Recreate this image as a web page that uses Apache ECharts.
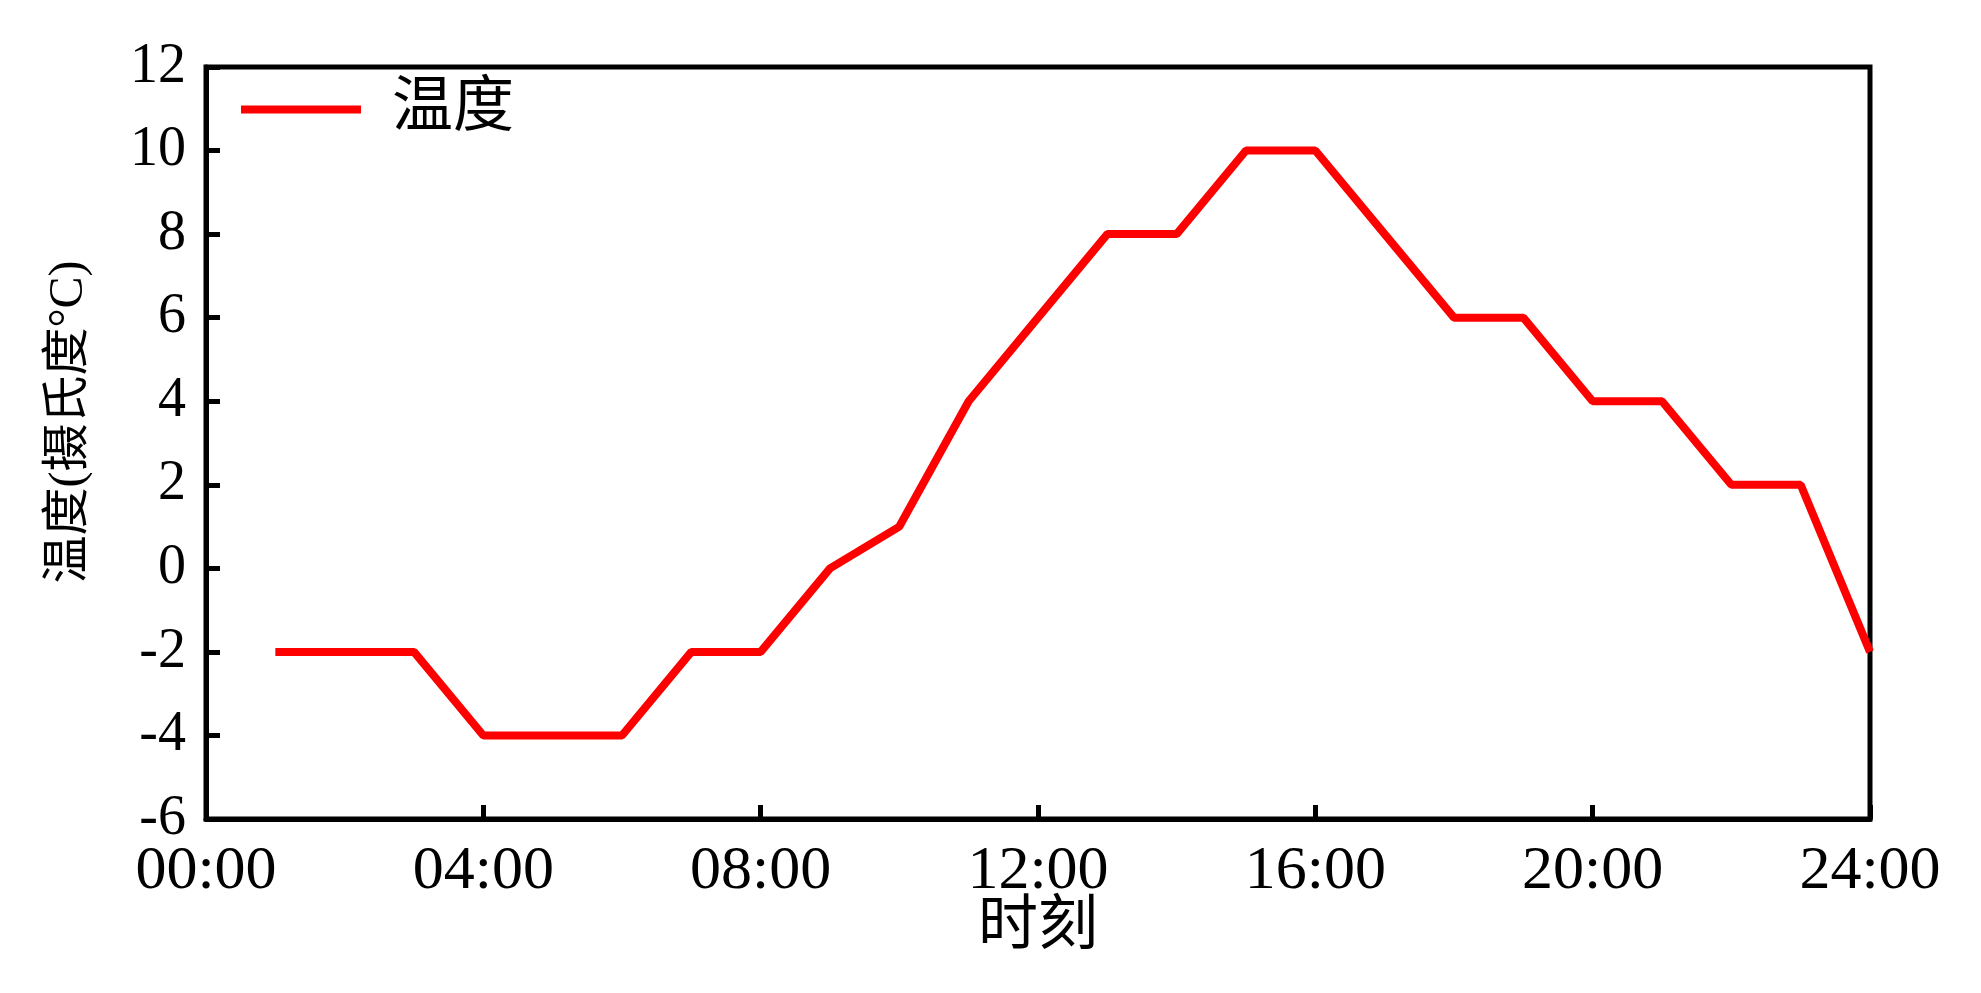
<!DOCTYPE html>
<html>
<head>
<meta charset="utf-8">
<script src="https://cdn.jsdelivr.net/npm/echarts@6/dist/echarts.min.js"></script>
<style>
  html, body { margin: 0; padding: 0; background: #fff; }
  #main { width: 1981px; height: 993px; }
</style>
</head>
<body>
<div id="main"></div>
<script>
// hour of day (x) and temperature (y)
const hours = [1, 2, 3, 4, 5, 6, 7, 8, 9, 10, 11, 12, 13, 14, 15, 16, 17, 18, 19, 20, 21, 22, 23, 24];
const temps = [-2, -2, -2, -4, -4, -4, -2, -2, 0, 1, 4, 6, 8, 8, 10, 10, 8, 6, 6, 4, 4, 2, 2, -2];
const seriesName = "温度";
const xName = "时刻";
const yName = "温度(摄氏度°C)";

const font = "'Liberation Serif', 'Times New Roman', 'Noto Sans CJK SC', serif";

const chart = echarts.init(document.getElementById("main"));

const option = {
  backgroundColor: "#fff",
  animation: false,
  grid: {
    left: 206, right: 111, top: 67, bottom: 174,
    show: true, borderColor: "#000", borderWidth: 5, backgroundColor: "transparent"
  },
  legend: {
    left: 236,
    top: 74,
    itemWidth: 120,
    itemHeight: 8,
    itemGap: 10,
    icon: "rect",
    textStyle: { fontFamily: font, fontSize: 61, color: "#000", padding: [6, 0, 0, 26] },
    data: [seriesName]
  },
  xAxis: {
    type: "value",
    min: 0,
    max: 24,
    interval: 4,
    name: xName,
    nameLocation: "middle",
    nameGap: 79,
    nameMoveOverlap: false,
    nameTextStyle: { fontFamily: font, fontSize: 60, color: "#000" },
    axisLine: { show: true, onZero: false, lineStyle: { color: "#000", width: 5 } },
    axisTick: { show: true, inside: true, length: 14, lineStyle: { color: "#000", width: 5 } },
    axisLabel: {
      fontFamily: font, fontSize: 62, color: "#000", margin: 22,
      formatter: v => String(v).padStart(2, "0") + ":00"
    },
    splitLine: { show: false }
  },
  yAxis: {
    type: "value",
    min: -6,
    max: 12,
    interval: 2,
    name: yName,
    nameLocation: "middle",
    nameGap: 113,
    nameTextStyle: { fontFamily: font, fontSize: 48, color: "#000", padding: [0, 0, 0, 42] },
    axisLine: { show: true, onZero: false, lineStyle: { color: "#000", width: 5 } },
    axisTick: { show: true, inside: true, length: 14, lineStyle: { color: "#000", width: 5 } },
    axisLabel: { fontFamily: font, fontSize: 56, color: "#000", margin: 20 },
    splitLine: { show: false }
  },
  series: [{
    name: seriesName,
    type: "line",
    data: hours.map((h, i) => [h, temps[i]]),
    showSymbol: false,
    symbol: "none",
    lineStyle: { color: "#ff0000", width: 8 },
    itemStyle: { color: "#ff0000" }
  }]
};

chart.setOption(option);
</script>
</body>
</html>
